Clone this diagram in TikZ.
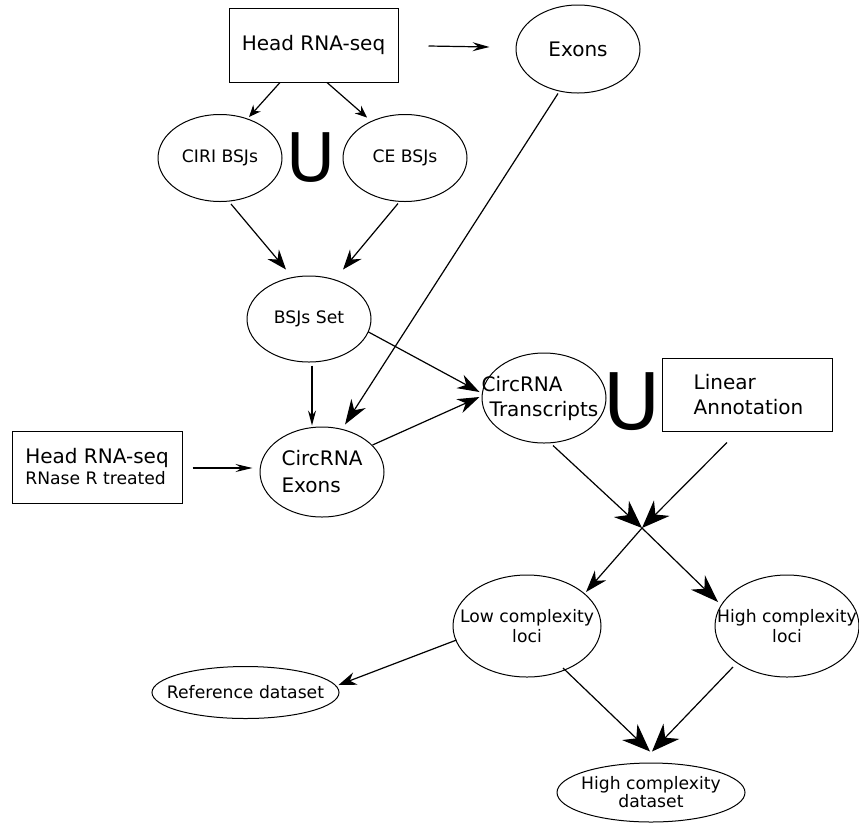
\documentclass[tikz,border=0pt]{standalone}
\usepackage{fontspec}
\setmainfont{DejaVu Sans}
\usetikzlibrary{arrows.meta,shapes.geometric}
\begin{document}
\begin{tikzpicture}[x=1pt,y=-1pt,
  ell/.style={draw,ellipse,inner sep=0pt,line width=1pt},
  boxnode/.style={draw,rectangle,inner sep=0pt,line width=1pt},
  conn/.style={line width=1.2pt},
  arr/.style n args={3}{-{Stealth[length=#1pt,width=#2pt,inset=#3pt]}},
  bigf/.style={font=\fontsize{20}{25}\selectfont},
  midf/.style={font=\fontsize{17.2}{20}\selectfont}]
\fill[white] (0,0) rectangle (859,823);
\useasboundingbox (0,0) rectangle (859,823);

% nodes
\node[boxnode,bigf,minimum width=169pt,minimum height=74pt] (headA) at (313.5,45) {Head RNA-seq};
\node[ell,minimum width=124pt,minimum height=88pt,label={[bigf]center:Exons}] (exons) at (578,49) {};
\node[ell,minimum width=124pt,minimum height=87pt,label={[midf]center:CIRI BSJs}] (ciri) at (220,158) {};
\node[inner sep=0pt,font=\fontsize{67}{67}\selectfont] (u1) at (311.5,157.5) {U};
\node[ell,minimum width=124pt,minimum height=87pt,label={[midf]center:CE BSJs}] (ce) at (405,158) {};
\node[ell,minimum width=124pt,minimum height=86pt,label={[midf]center:BSJs Set}] (bsjs) at (309,319) {};
\node[ell,minimum width=124pt,minimum height=90pt,label={[font=\fontsize{20}{27}\selectfont,align=left]center:CircRNA\\Exons}] (cexons) at (322,472) {};
\node[boxnode,align=left,font=\fontsize{17.2}{21}\selectfont,minimum width=170pt,minimum height=72pt] (headB) at (97,467) {{\fontsize{20}{21}\selectfont Head RNA-seq}\\RNase R treated};
\node[ell,minimum width=124pt,minimum height=90pt,label={[bigf,align=left]center:\hspace*{-8pt}CircRNA\\Transcripts}] (trans) at (544,398) {};
\node[inner sep=0pt,font=\fontsize{78}{78}\selectfont] (u2) at (632.5,401.5) {U};
\node[boxnode,bigf,align=left,minimum width=170pt,minimum height=73pt] (linear) at (747,394.5) {\hspace*{3pt}Linear\\\hspace*{3pt}Annotation};
\coordinate (X) at (642,528);
\node[ell,minimum width=148pt,minimum height=102pt,label={[midf,align=center]center:Low complexity\\loci}] (low) at (527,626) {};
\node[ell,minimum width=144pt,minimum height=102pt,label={[midf,align=center]center:High complexity\\loci}] (high) at (787,626) {};
\node[ell,minimum width=187pt,minimum height=52pt,label={[midf]center:Reference dataset}] (ref) at (245.5,692.5) {};
\node[ell,minimum width=188pt,minimum height=59pt,label={[font=\fontsize{17.2}{18}\selectfont,align=center]center:High complexity\\dataset}] (hcd) at (651,792.5) {};

% connectors
\draw[conn,arr={17}{9}{6}] ([shift={(30,1)}]headA.east) -- ([shift={(-26,-2)}]exons.west);
\draw[conn,arr={12}{10}{4}] ([shift={(-33.5,0)}]headA.south) -- ([shift={(29,3)}]ciri.north);
\draw[conn,arr={12}{10}{4}] ([shift={(13.5,0)}]headA.south) -- ([shift={(-38,3.5)}]ce.north);
\draw[conn,arr={20}{15}{7}] ([shift={(11,2)}]ciri.south) -- ([shift={(-23,-6)}]bsjs.north);
\draw[conn,arr={20}{15}{7}] ([shift={(-7,1.5)}]ce.south) -- ([shift={(34,-6)}]bsjs.north);
\draw[conn,arr={25}{17}{8}] ([shift={(-20,0)}]exons.south) -- ([shift={(23,-2)}]cexons.north);
\draw[conn,arr={15}{8}{5}] ([shift={(3,3)}]bsjs.south) -- ([shift={(-10,-1)}]cexons.north);
\draw[conn,arr={22}{15}{7}] ([shift={(-3,13)}]bsjs.east) -- ([shift={(-2,-6)}]trans.west);
\draw[conn,arr={22}{15}{7}] ([shift={(-12,-27)}]cexons.east) -- ([shift={(-2,-1)}]trans.west);
\draw[conn,arr={17}{8}{6}] ([shift={(10,1)}]headB.east) -- ([shift={(-7,-4)}]cexons.west);
\draw[conn,arr={28}{22}{9}] ([shift={(9,2)}]trans.south) -- (X);
\draw[conn,arr={28}{22}{9}] ([shift={(-20,11)}]linear.south) -- (X);
\draw[conn,arr={22}{15}{7}] (X) -- ([shift={(59,-34)}]low.center);
\draw[conn,arr={28}{20}{9}] (X) -- ([shift={(-69,-24)}]high.center);
\draw[conn,arr={18}{13}{6}] ([shift={(4,14)}]low.west) -- ([shift={(-1,-7.5)}]ref.east);
\draw[conn,arr={28}{22}{9}] ([shift={(36,42)}]low.center) -- ([shift={(-1,-11)}]hcd.north);
\draw[conn,arr={28}{22}{9}] ([shift={(-54,41)}]high.center) -- ([shift={(1,-11)}]hcd.north);
\end{tikzpicture}
\end{document}
